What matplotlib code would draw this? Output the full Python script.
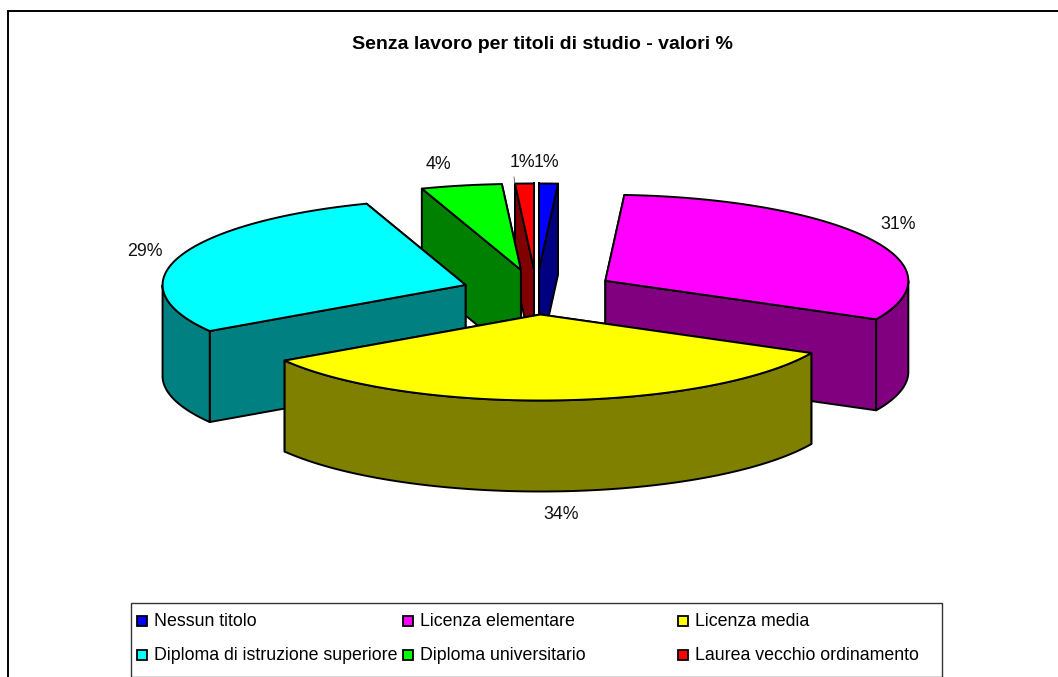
import numpy as np
import matplotlib
matplotlib.use("Agg")
import matplotlib.pyplot as plt
from matplotlib.patches import Rectangle, Polygon

categories = ["Nessun titolo", "Licenza elementare", "Licenza media",
              "Diploma di istruzione superiore", "Diploma universitario",
              "Laurea vecchio ordinamento"]
values = [1.0, 31.4, 33.6, 28.7, 4.3, 1.0]
colors = ["#0000FF", "#FF00FF", "#FFFF00", "#00FFFF", "#00FF00", "#FF0000"]
sides = ["#000080", "#800080", "#808000", "#008080", "#008000", "#800000"]
labels = ["1%", "31%", "34%", "29%", "4%", "1%"]
title = "Senza lavoro per titoli di studio - valori %"

# layout of the pie (pixels)
CX, CY, RX, RY, DEPTH = 536.5, 292.0, 303.0, 86.0, 91.0
explode = [0.262, 0.262, 0.262, 0.248, 0.262, 0.262]
paint_order = [0, 5, 4, 3, 1, 2]
label_pos = [(546, 161), (898, 223), (561, 513), (145, 250), (438, 163), (522, 161)]
legend_cells = [(137, 621), (403, 621), (678, 621), (137, 655), (403, 655), (678, 655)]

plt.rcParams["font.family"] = ["Liberation Sans", "DejaVu Sans"]
fig = plt.figure(figsize=(10.58, 6.77), dpi=100)
ax = fig.add_axes([0, 0, 1, 1])
ax.set_xlim(0, 1058)
ax.set_ylim(677, 0)
ax.axis("off")

EDGE = dict(edgecolor="black", linewidth=1.4, joinstyle="round")


def pt(cx, cy, a, dz=0.0):
    return cx + RX * np.sin(a), cy - RY * np.cos(a) + dz


cum = np.cumsum([0] + values) / sum(values) * 2 * np.pi
for i in paint_order:
    a0, a1 = cum[i], cum[i + 1]
    mid = (a0 + a1) / 2
    cx = CX + explode[i] * RX * np.sin(mid)
    cy = CY - explode[i] * RY * np.cos(mid)
    arc = np.linspace(a0, a1, max(3, int((a1 - a0) * 40)))
    ax_, ay_ = pt(cx, cy, arc)
    # radial walls, farther one first
    walls = []
    for a in (a0, a1):
        x, y = pt(cx, cy, a)
        walls.append((y, [(cx, cy), (x, y), (x, y + DEPTH), (cx, cy + DEPTH)]))
    for _, w in sorted(walls, key=lambda t: t[0]):
        ax.add_patch(Polygon(w, closed=True, facecolor=sides[i], **EDGE))
    # outer wall: only the front half of the rim shows
    lo, hi = max(a0, np.pi / 2), min(a1, 3 * np.pi / 2)
    if hi > lo:
        fr = np.linspace(lo, hi, 80)
        fx, fy = pt(cx, cy, fr)
        poly = np.r_[np.c_[fx, fy], np.c_[fx, fy + DEPTH][::-1]]
        ax.add_patch(Polygon(poly, closed=True, facecolor=sides[i], **EDGE))
    top = np.r_[[[cx, cy]], np.c_[ax_, ay_]]
    ax.add_patch(Polygon(top, closed=True, facecolor=colors[i], **EDGE))

for s, (x, y) in zip(labels, label_pos):
    ax.text(x, y + 6, s, ha="center", va="baseline", fontsize=12.8, color="#111111")

# short leader from the label of the last slice to its rim
ax.plot([514, 515], [177, 184], color="#555555", lw=0.6)

ax.text(542, 49, title, ha="center", va="baseline", fontsize=14.0, fontweight="bold")

# chart frame: top and left edges reach the picture border
ax.plot([8, 8, 1058], [677, 11, 11], color="black", lw=1.4, solid_joinstyle="miter", clip_on=False)

# legend
ax.add_patch(Rectangle((130.5, 602.5), 811, 74, facecolor="white", edgecolor="#333333", linewidth=1.0))
for name, col, (x, y) in zip(categories, colors, legend_cells):
    ax.add_patch(Rectangle((x, y - 5), 10, 10, facecolor=col, edgecolor="black", linewidth=1.3))
    ax.text(x + 17, y + 5.5, name, ha="left", va="baseline", fontsize=12.8)

fig.savefig("out.png", dpi=100)
